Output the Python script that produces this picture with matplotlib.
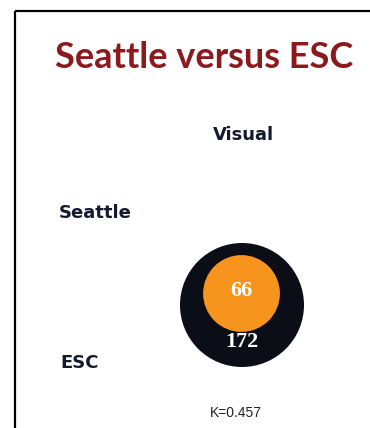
import numpy as np
import matplotlib.pyplot as plt
from matplotlib.patches import Circle

# counts: total ESC cases, and those Seattle also flagged
counts = [172, 66]
count_labels = ["172", "66"]
row_labels = ["Seattle", "ESC"]
col_label = "Visual"
kappa = 0.457

W, H = 370, 428
fig = plt.figure(figsize=(W / 100, H / 100), dpi=100)
ax = fig.add_axes([0, 0, 1, 1])
ax.set_xlim(0, W)
ax.set_ylim(H, 0)
ax.set_aspect("equal")
ax.axis("off")

# frame lines on the top and left
ax.plot([15, W], [11, 11], color="black", lw=1.6, solid_capstyle="butt")
ax.plot([15, 15], [11, H], color="black", lw=1.6, solid_capstyle="butt")

ax.text(204, 57, "Seattle versus ESC", color="#8b1a1f", fontsize=26,
        fontweight="bold", ha="center", va="center", family="Lato")

navy = "#141a2e"
ax.text(243, 135, col_label, color=navy, fontsize=13, fontweight="bold",
        ha="center", va="center", family="DejaVu Sans")
ax.text(59, 213, row_labels[0], color=navy, fontsize=13, fontweight="bold",
        ha="left", va="center", family="DejaVu Sans")
ax.text(60, 363, row_labels[1], color=navy, fontsize=13, fontweight="bold",
        ha="left", va="center", family="DejaVu Sans")

# circle areas proportional to counts
scale = 62 / np.sqrt(max(counts))
radii = [scale * np.sqrt(c) for c in counts]
centers = [(242, 305), (241.5, 293.5)]
colors = ["#0b0e17", "#f7941d"]
for (cx, cy), r, c in zip(centers, radii, colors):
    ax.add_patch(Circle((cx, cy), r, facecolor=c, edgecolor="none"))

ax.text(242, 342, count_labels[0], color="white", fontsize=16,
        fontweight="bold", ha="center", va="center", family="Liberation Serif")
ax.text(241, 291, count_labels[1], color="white", fontsize=16,
        fontweight="bold", ha="center", va="center", family="Liberation Serif")

ax.text(236, 413, f"K={kappa}", color="#222222", fontsize=10,
        ha="center", va="center", family="Liberation Sans")

fig.savefig("out.png", dpi=100)
